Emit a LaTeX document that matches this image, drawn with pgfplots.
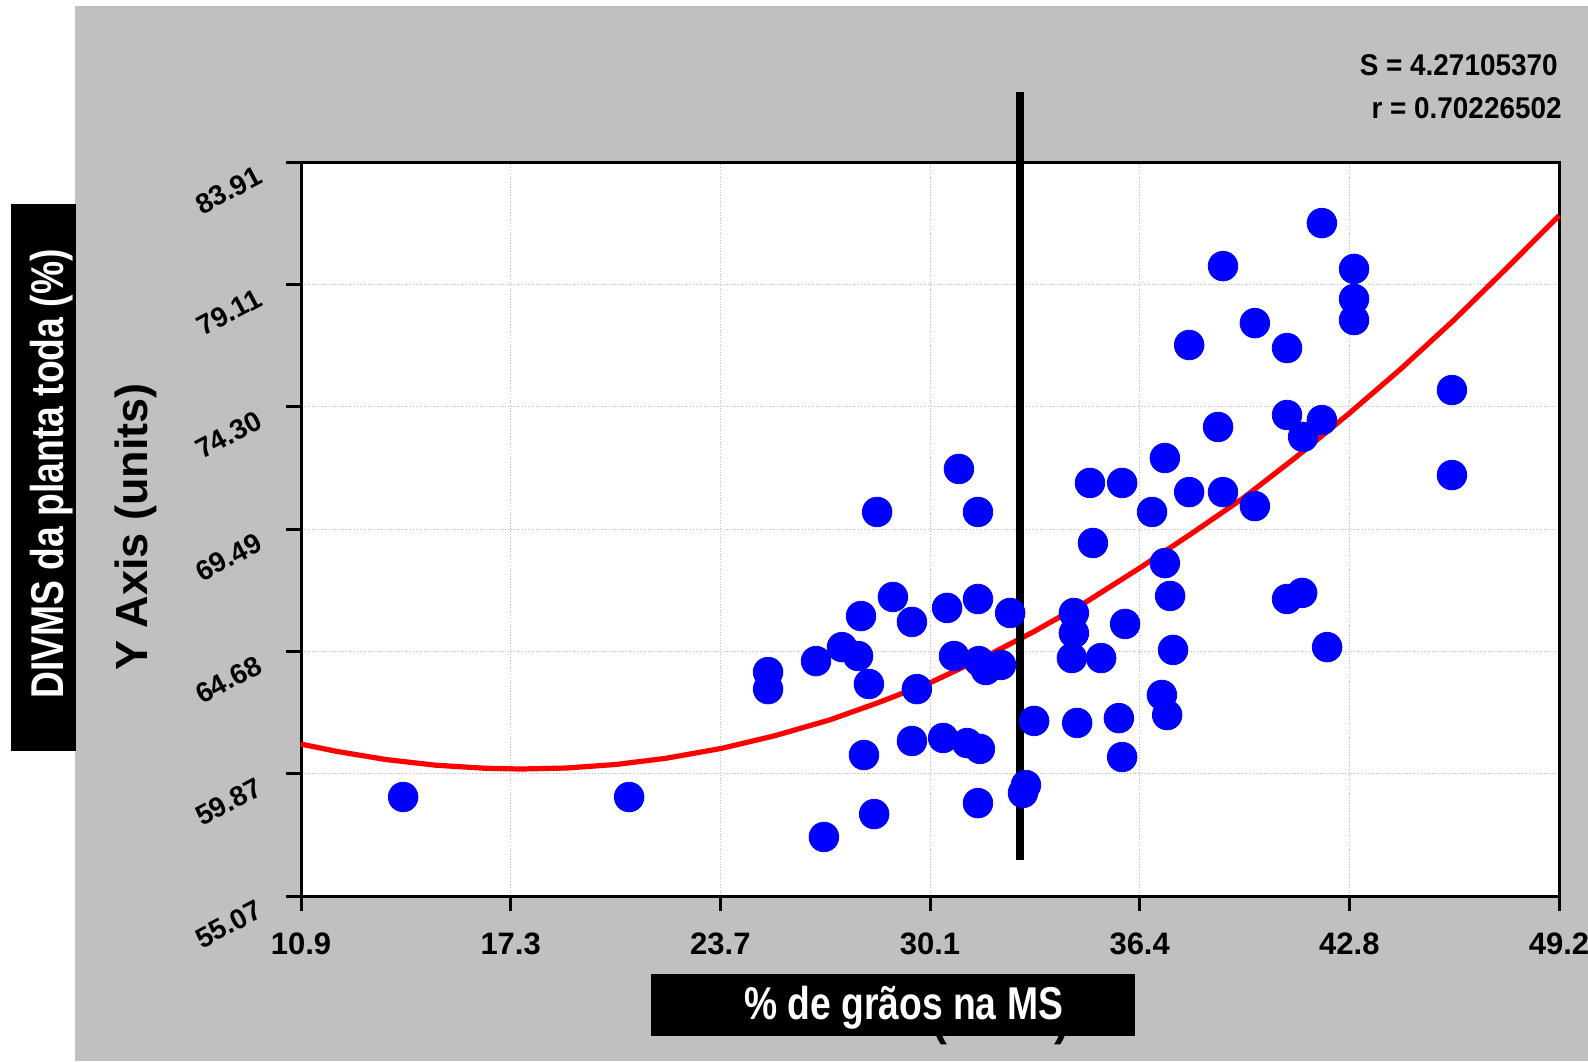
\documentclass[border=0pt]{standalone}
\usepackage{pgfplots}
\pgfplotsset{compat=1.18}
\usepackage{fontspec}
\usepackage{graphicx}
\setmainfont{Liberation Sans}
\definecolor{bggray}{RGB}{192,192,192}
\begin{document}
\begin{tikzpicture}
\begin{scope}[x=0.5pt,y=-0.5pt]
\fill[bggray] (75,6) rectangle (1588,1061);
\end{scope}
\begin{axis}[
  at={(150.5pt,-448pt)}, anchor=south west,
  scale only axis, width=629pt, height=367pt,
  xmin=10.9, xmax=49.2, ymin=55.07, ymax=83.91,
  clip=false,
  axis background/.style={fill=white},
  axis line style={line width=1.5pt, black},
  tick align=outside, tick pos=left,
  tick style={line width=1.5pt, black},
  major tick length=7.5pt, minor tick length=4.5pt,
  minor x tick num=3, minor y tick num=3,
  xtick={10.9,17.2833,23.6667,30.05,36.4333,42.8167,49.2},
  xticklabels={10.9,17.3,23.7,30.1,36.4,42.8,49.2},
  ytick={55.07,59.8767,64.6833,69.49,74.2967,79.1033,83.91},
  yticklabels={55.07,59.87,64.68,69.49,74.30,79.11,83.91},
  grid=major,
  grid style={gray!55, densely dotted, line width=0.5pt},
  /pgf/number format/assume math mode=true,
  xticklabel style={font=\fontsize{15.5}{18}\selectfont\bfseries, yshift=-7.5pt},
  yticklabel style={font=\fontsize{14}{16}\selectfont\bfseries, rotate=28, anchor=north east, xshift=-11pt, yshift=9.5pt},
]
\addplot[only marks, mark=*, mark size=7.4pt, mark options={fill=blue, draw=blue}] coordinates {
(14.01,58.96) (20.89,58.96) (25.12,63.87) (25.12,63.20) (26.58,64.30)
(26.82,57.39) (27.37,64.85) (27.86,64.50) (27.95,66.07) (28.04,60.61)
(28.19,63.40) (28.35,58.29) (28.44,70.16) (28.92,66.82) (29.50,65.84)
(29.50,61.16) (29.65,63.20) (30.45,61.28) (30.57,66.39) (30.78,64.50)
(30.93,71.85) (31.18,61.08) (31.51,70.16) (31.51,66.74) (31.54,64.30)
(31.51,58.72) (31.57,60.85) (31.75,63.95) (32.21,64.15) (32.49,66.19)
(32.88,59.12) (32.97,59.43) (33.22,61.95) (34.37,64.42) (34.43,66.19)
(34.43,65.40) (34.53,61.87) (34.92,71.30) (35.01,68.94) (35.26,64.42)
(35.80,62.06) (35.90,71.30) (35.90,60.53) (35.99,65.76) (36.81,70.16)
(37.11,62.97) (37.20,72.28) (37.20,68.15) (37.27,62.18) (37.36,66.86)
(37.45,64.74) (37.94,76.72) (37.94,70.94) (38.82,73.50) (38.97,79.82)
(38.97,70.94) (39.94,77.58) (39.94,70.39) (40.92,76.60) (40.92,73.97)
(40.92,66.74) (41.41,73.11) (41.38,66.98) (41.98,81.51) (41.98,73.77)
(42.14,64.85) (42.96,79.71) (42.96,78.53) (42.96,77.70) (45.94,74.95)
(45.94,71.61)
};
\addplot[red, line width=2.6pt] coordinates {
(10.9,61.04) (12.0,60.75) (13.5,60.43) (15.0,60.21) (16.5,60.09)
(17.6,60.06) (19.0,60.10) (20.5,60.24) (22.0,60.48) (23.7,60.87)
(25.3,61.36) (27.0,61.99) (28.5,62.68) (30.1,63.48) (31.7,64.45)
(33.2,65.45) (34.8,66.62) (36.4,67.93) (38.0,69.30) (39.6,70.72)
(41.2,72.32) (42.8,74.02) (44.4,75.80) (46.0,77.70) (47.6,79.73)
(49.2,81.80)
};
\addplot[black, line width=4pt] coordinates {(32.79,56.48) (32.79,86.66)};
\end{axis}
\begin{scope}[x=0.5pt,y=-0.5pt]
% left black box
\fill[black] (11,204) rectangle (76,751);
\node[rotate=90, anchor=base, text=white, inner sep=0pt, font=\fontsize{23}{27}\selectfont\bfseries] at (63,474) {\scalebox{0.81}[1]{DIVMS da planta toda (\%)}};
% Y axis label
\node[rotate=90, anchor=base, inner sep=0pt, font=\fontsize{22.5}{27}\selectfont\bfseries] at (147,527) {Y Axis (units)};
% X axis label hidden behind box
\node[anchor=base, inner sep=0pt, font=\fontsize{22.5}{27}\selectfont\bfseries] at (926,1035) {X Axis (units)};
\fill[black] (651,974) rectangle (1135,1036);
\node[anchor=base, text=white, inner sep=0pt, font=\fontsize{23}{27}\selectfont\bfseries] at (903.5,1019) {\scalebox{0.81}[1]{\% de grãos na MS}};
% statistics
\node[anchor=base east, inner sep=0pt, font=\fontsize{15}{17}\selectfont\bfseries] at (1558,75) {\scalebox{0.93}[1]{S = 4.27105370}};
\node[anchor=base east, inner sep=0pt, font=\fontsize{15}{17}\selectfont\bfseries] at (1562,118) {\scalebox{0.93}[1]{r = 0.70226502}};
\end{scope}
\pgfresetboundingbox
\path[use as bounding box] (0pt,0pt) rectangle (794pt,-530.5pt);
\end{tikzpicture}
\end{document}
